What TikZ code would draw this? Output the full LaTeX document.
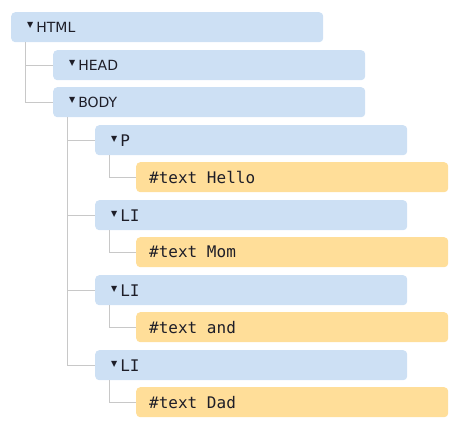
\documentclass[tikz,border=0pt]{standalone}
\usepackage{fontspec}
\setmainfont{DejaVu Sans}
\setmonofont{DejaVu Sans Mono}
\usepackage{tikz}
\definecolor{tagblue}{RGB}{205,224,244}
\definecolor{textorange}{RGB}{255,222,153}
\definecolor{linkgray}{RGB}{200,200,200}
\definecolor{ink}{RGB}{30,30,40}
\newcommand{\opened}{{\rmfamily\fontsize{8}{8}\selectfont\raisebox{4.5pt}{▼}}\hspace{3pt}}
\newcommand{\monosp}{\makebox[0.602em]{}}
\tikzstyle{Tag}=[rectangle, rounded corners=4pt, fill=tagblue, draw=none, minimum height=30pt, inner ysep=0pt, inner xsep=16pt, text width=280pt, align=left, anchor=north west, text=ink, font=\fontsize{14}{14}\selectfont]
\tikzstyle{MonoTag}=[Tag, font=\ttfamily\fontsize{16}{16}\selectfont]
\tikzstyle{Text}=[Tag, fill=textorange, inner xsep=13pt, text width=286pt, font=\ttfamily\fontsize{16}{16}\selectfont]
\tikzstyle{Link}=[draw=linkgray, line width=1pt]

\begin{document}
\begin{tikzpicture}[x=1pt, y=-1pt]
    \useasboundingbox (0,0) rectangle (465,433);
    \path
    (11,12) node[Tag] (html) {\opened HTML}
    (53,50) node[Tag] (head) {\opened HEAD}
    (53,87) node[Tag] (body) {\opened BODY}
    (95,125) node[MonoTag] (p) {\opened P}
    (136,162) node[Text] (hello) {\#text\monosp Hello}
    (95,200) node[MonoTag] (li1) {\opened LI}
    (136,237) node[Text] (mom) {\#text\monosp Mom}
    (95,275) node[MonoTag] (li2) {\opened LI}
    (136,312) node[Text] (and) {\#text\monosp and}
    (95,350) node[MonoTag] (li3) {\opened LI}
    (136,387) node[Text] (dad) {\#text\monosp Dad};

    % tree lines
    \draw[Link] ([xshift=14pt]html.south west) |- (head.west);
    \draw[Link] ([xshift=14pt]html.south west) |- (body.west);
    \foreach \kid in {p,li1,li2,li3}
        \draw[Link] ([xshift=14pt]body.south west) |- (\kid.west);
    \draw[Link] ([xshift=14pt]p.south west) |- (hello.west);
    \draw[Link] ([xshift=14pt]li1.south west) |- (mom.west);
    \draw[Link] ([xshift=14pt]li2.south west) |- (and.west);
    \draw[Link] ([xshift=14pt]li3.south west) |- (dad.west);
\end{tikzpicture}
\end{document}
